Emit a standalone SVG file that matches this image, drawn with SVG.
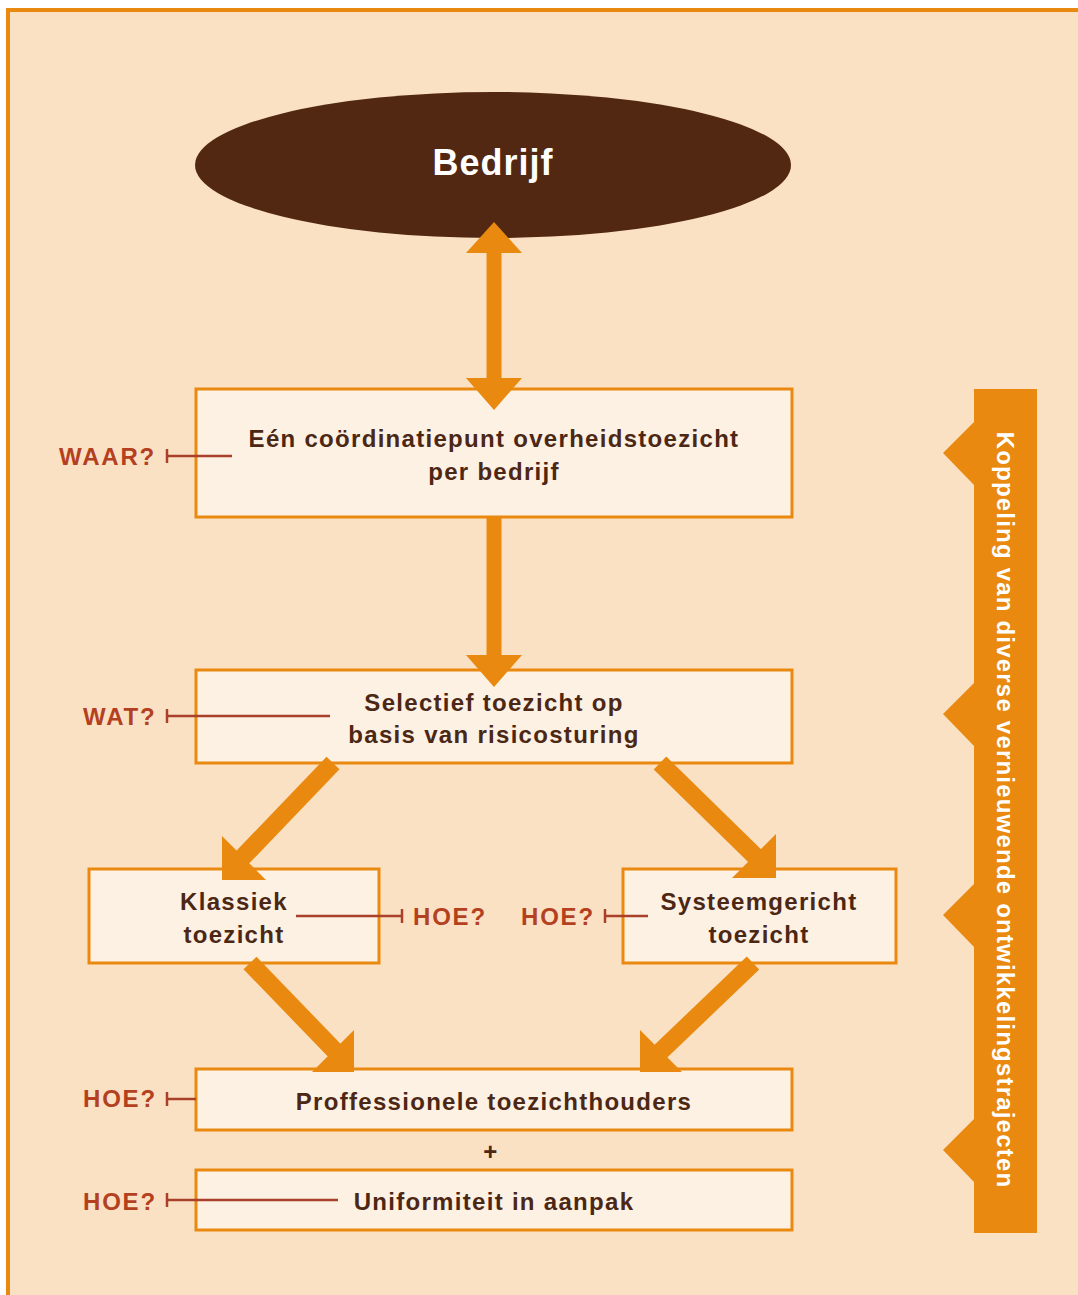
<svg xmlns="http://www.w3.org/2000/svg" width="1078" height="1295" viewBox="0 0 1078 1295">
<style>
.box{fill:#FDF1E4;stroke:#E9890F;stroke-width:3}
.t{font-family:"Liberation Sans",Arial,sans-serif;font-weight:bold;font-size:24px;fill:#4B2714;text-anchor:middle;letter-spacing:1.3px}
.q{font-family:"Liberation Sans",Arial,sans-serif;font-weight:bold;font-size:24px;fill:#B3401E;letter-spacing:1.8px}
.ln{stroke:#A8402A;stroke-width:2.5;fill:none}
.ar{fill:#E9890F}
.sh{stroke:#E9890F;fill:none}
</style>
<rect x="0" y="0" width="1078" height="1295" fill="#FFFFFF"/>
<rect x="8" y="10" width="1080" height="1295" fill="#FBE1C4" stroke="#E9890F" stroke-width="4"/>

<g id="banner">
<rect x="974" y="389" width="63" height="844" fill="#E9890F"/>
<polygon points="974,422 943,453 974,485" fill="#E9890F"/>
<polygon points="974,683 943,714 974,746" fill="#E9890F"/>
<polygon points="974,884 943,915 974,947" fill="#E9890F"/>
<polygon points="974,1119 943,1150 974,1182" fill="#E9890F"/>
<text transform="translate(1005,810) rotate(90)" x="0" y="8" text-anchor="middle" font-family="Liberation Sans, Arial, sans-serif" font-weight="bold" font-size="24" fill="#FFFFFF" letter-spacing="1.2">Koppeling van diverse vernieuwende ontwikkelingstrajecten</text>
</g>

<g id="bedrijf">
<ellipse cx="493" cy="165" rx="298" ry="73" fill="#532812"/>
<text x="493" y="175" text-anchor="middle" font-family="Liberation Sans, Arial, sans-serif" font-weight="bold" font-size="36" fill="#FFFFFF" letter-spacing="1">Bedrijf</text>
</g>

<g id="n1">
<rect class="box" x="196" y="389" width="596" height="128"/>
<text class="t" x="494" y="447">Eén coördinatiepunt overheidstoezicht</text>
<text class="t" x="494" y="480">per bedrijf</text>
</g>
<g id="n2">
<rect class="box" x="196" y="670" width="596" height="93"/>
<text class="t" x="494" y="711">Selectief toezicht op</text>
<text class="t" x="494" y="743">basis van risicosturing</text>
</g>
<g id="n3">
<rect class="box" x="89" y="869" width="290" height="94"/>
<text class="t" x="234" y="910">Klassiek</text>
<text class="t" x="234" y="943">toezicht</text>
</g>
<g id="n4">
<rect class="box" x="623" y="869" width="273" height="94"/>
<text class="t" x="759" y="910">Systeemgericht</text>
<text class="t" x="759" y="943">toezicht</text>
</g>
<g id="n5">
<rect class="box" x="196" y="1069" width="596" height="61"/>
<text class="t" x="494" y="1110">Proffessionele toezichthouders</text>
</g>
<text class="t" x="491" y="1160">+</text>
<g id="n6">
<rect class="box" x="196" y="1170" width="596" height="60"/>
<text class="t" x="494" y="1210">Uniformiteit in aanpak</text>
</g>

<g id="connectors">
<line class="sh" x1="494" y1="250" x2="494" y2="382" stroke-width="15"/>
<polygon class="ar" points="494,222 522,253 466,253"/>
<polygon class="ar" points="494,410 522,378 466,378"/>
<line class="sh" x1="494" y1="517" x2="494" y2="660" stroke-width="15"/>
<polygon class="ar" points="494,687 522,655 466,655"/>
<line class="sh" x1="333" y1="763" x2="240" y2="860" stroke-width="18"/>
<polygon class="ar" points="222,880 222,836 266,880"/>
<line class="sh" x1="660" y1="763" x2="757" y2="858" stroke-width="18"/>
<polygon class="ar" points="776,878 776,834 732,878"/>
<line class="sh" x1="250" y1="963" x2="336" y2="1052" stroke-width="18"/>
<polygon class="ar" points="354,1072 354,1030 312,1072"/>
<line class="sh" x1="753" y1="963" x2="660" y2="1052" stroke-width="18"/>
<polygon class="ar" points="640,1072 640,1030 682,1072"/>

<line class="ln" x1="167" y1="456" x2="232" y2="456"/>
<line class="ln" x1="167" y1="449" x2="167" y2="463"/>
<line class="ln" x1="167" y1="716" x2="330" y2="716"/>
<line class="ln" x1="167" y1="709" x2="167" y2="723"/>
<line class="ln" x1="296" y1="916" x2="402" y2="916"/>
<line class="ln" x1="402" y1="909" x2="402" y2="923"/>
<line class="ln" x1="605" y1="916" x2="648" y2="916"/>
<line class="ln" x1="605" y1="909" x2="605" y2="923"/>
<line class="ln" x1="167" y1="1099" x2="196" y2="1099"/>
<line class="ln" x1="167" y1="1092" x2="167" y2="1106"/>
<line class="ln" x1="167" y1="1200" x2="338" y2="1200"/>
<line class="ln" x1="167" y1="1193" x2="167" y2="1207"/>
</g>

<g id="labels">
<text class="q" x="59" y="465">WAAR?</text>
<text class="q" x="83" y="725">WAT?</text>
<text class="q" x="413" y="925">HOE?</text>
<text class="q" x="521" y="925">HOE?</text>
<text class="q" x="83" y="1107">HOE?</text>
<text class="q" x="83" y="1210">HOE?</text>
</g>
</svg>
